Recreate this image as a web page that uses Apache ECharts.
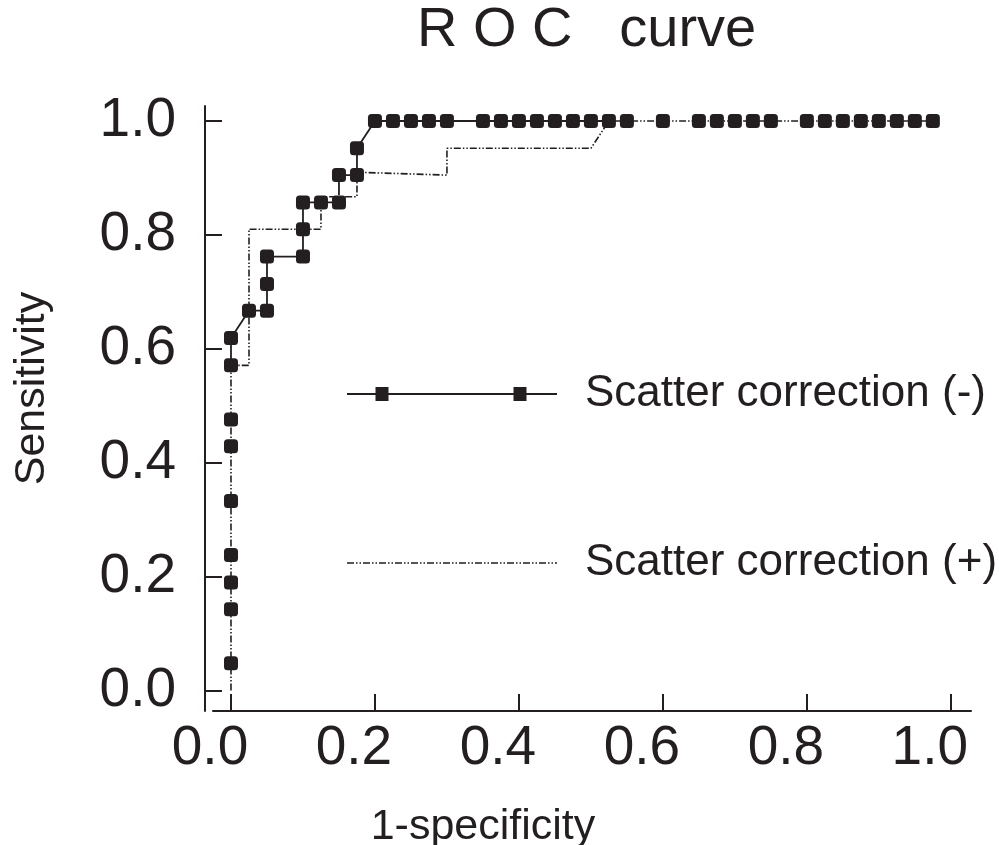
<!DOCTYPE html>
<html>
<head>
<meta charset="utf-8">
<title>ROC curve</title>
<script src="https://cdn.jsdelivr.net/npm/echarts@6/dist/echarts.min.js"></script>
<style>
  html, body { margin: 0; padding: 0; background: #fff; }
</style>
</head>
<body>
<div id="main" style="width: 999px; height: 845px;"></div>
<script>
// 1-specificity / sensitivity
var fprMinus = [0, 0, 0, 0, 0, 0, 0, 0, 0, 0.025, 0.05, 0.05, 0.05, 0.1, 0.1, 0.1, 0.125, 0.15, 0.15, 0.175, 0.175,
  0.2, 0.225, 0.25, 0.275, 0.3, 0.35, 0.375, 0.4, 0.425, 0.45, 0.475, 0.5, 0.525, 0.55, 0.6,
  0.65, 0.675, 0.7, 0.725, 0.75, 0.8, 0.825, 0.85, 0.875, 0.9, 0.925, 0.95, 0.975];
var tprMinus = [0.048, 0.143, 0.190, 0.238, 0.333, 0.429, 0.476, 0.571, 0.619, 0.667, 0.667, 0.714, 0.762, 0.762, 0.810, 0.857, 0.857, 0.857, 0.905, 0.905, 0.952,
  1, 1, 1, 1, 1, 1, 1, 1, 1, 1, 1, 1, 1, 1, 1,
  1, 1, 1, 1, 1, 1, 1, 1, 1, 1, 1, 1, 1];

var fprPlus = [0, 0, 0.025, 0.025, 0.125, 0.125, 0.175, 0.175, 0.3, 0.3, 0.5, 0.525, 0.975];
var tprPlus = [0, 0.571, 0.571, 0.810, 0.810, 0.867, 0.867, 0.910, 0.905, 0.952, 0.952, 1, 1];

var tickValues = [0, 0.2, 0.4, 0.6, 0.8, 1.0];
var seriesNames = ['Scatter correction (-)', 'Scatter correction (+)'];
var chartTitle = 'R O C   curve';
var xName = '1-specificity';
var yName = 'Sensitivity';

var ink = '#231f20';
var font = "'Liberation Sans', Arial, sans-serif";
var dashPattern = [7, 2, 1.5, 2, 1.5, 2];

function pairs(xs, ys) {
  return xs.map(function (x, i) { return [x, ys[i]]; });
}

// legend sample for the dash-dot line, as a filled path 210 wide
function dashIcon(width) {
  var d = '', x = 0, k = 0;
  while (x < width) {
    var len = dashPattern[k % dashPattern.length];
    if (k % 2 === 0) {
      var end = Math.min(x + len, width);
      d += 'M' + x + ',0H' + end + 'V1.5H' + x + 'Z ';
    }
    x += len;
    k++;
  }
  d += 'M' + (width - 0.5) + ',0H' + width + 'V1.5H' + (width - 0.5) + 'Z';
  return 'path://' + d;
}

var minusData = pairs(fprMinus, tprMinus);
var plusData = pairs(fprPlus, tprPlus);

var chart = echarts.init(document.getElementById('main'));

chart.setOption({
  animation: false,
  backgroundColor: '#fff',
  title: {
    text: chartTitle,
    left: 417,
    top: 3,
    padding: 0,
    textStyle: { fontFamily: font, fontSize: 56, fontWeight: 'normal', color: ink, lineHeight: 56 }
  },
  legend: {
    orient: 'vertical',
    left: 347,
    top: 372,
    padding: 0,
    itemWidth: 210,
    itemHeight: 14,
    itemGap: 125,
    symbolKeepAspect: true,
    itemStyle: { borderWidth: 0 },
    textStyle: { fontFamily: font, fontSize: 44, lineHeight: 44, color: ink, padding: [0, 0, 0, 23] },
    data: [
      { name: seriesNames[0], icon: 'path://M0,6.1H210V7.9H0Z M28.5,0H41.5V14H28.5Z M166.5,0H179.5V14H166.5Z' },
      { name: seriesNames[1], icon: dashIcon(210) }
    ]
  },
  grid: { left: 213, right: 28, top: 106, bottom: 134, outerBoundsMode: 'none' },
  xAxis: {
    type: 'value',
    min: -0.025,
    max: 1.028,
    name: xName,
    nameLocation: 'middle',
    nameGap: 95,
    nameTextStyle: { fontFamily: font, fontSize: 43, lineHeight: 43, color: ink, padding: [0, 218, 0, 0] },
    axisLine: { show: true, onZero: false, lineStyle: { color: ink, width: 2 } },
    axisTick: { show: true, inside: true, length: 17, customValues: tickValues, lineStyle: { color: ink, width: 2 } },
    axisLabel: {
      customValues: tickValues,
      margin: 10,
      fontFamily: font, fontSize: 55, lineHeight: 55, color: ink,
      padding: [0, 42, 0, 0],
      formatter: function (v) { return v.toFixed(1); }
    },
    splitLine: { show: false }
  },
  yAxis: {
    type: 'value',
    min: -0.0358,
    max: 1.0263,
    offset: 8,
    name: yName,
    nameLocation: 'middle',
    nameGap: 151,
    nameRotate: 90,
    nameTextStyle: { fontFamily: font, fontSize: 43, lineHeight: 43, color: ink, padding: [0, 0, 0, 40] },
    axisLine: { show: true, onZero: false, lineStyle: { color: ink, width: 2 } },
    axisTick: { show: true, inside: true, length: 17, customValues: tickValues, lineStyle: { color: ink, width: 2 } },
    axisLabel: {
      customValues: tickValues,
      margin: 29,
      fontFamily: font, fontSize: 55, lineHeight: 55, color: ink,
      formatter: function (v) { return v.toFixed(1); }
    },
    splitLine: { show: false }
  },
  series: [
    {
      // solid line of the (-) curve
      name: seriesNames[0],
      type: 'line',
      z: 1,
      data: minusData,
      symbol: 'none',
      color: ink,
      lineStyle: { color: ink, width: 1.8 }
    },
    {
      // the old plot draws dashed lines with opaque gaps
      name: 'gap',
      type: 'line',
      z: 2,
      data: plusData,
      symbol: 'none',
      lineStyle: { color: '#fff', width: 3.5 },
      silent: true
    },
    {
      name: seriesNames[1],
      type: 'line',
      z: 3,
      data: plusData,
      symbol: 'none',
      color: ink,
      lineStyle: { color: ink, width: 1.6, type: dashPattern }
    },
    {
      name: 'markers',
      type: 'scatter',
      z: 4,
      data: minusData,
      symbol: 'roundRect',
      symbolSize: 14,
      itemStyle: { color: ink, opacity: 1 }
    }
  ]
});
</script>
</body>
</html>
